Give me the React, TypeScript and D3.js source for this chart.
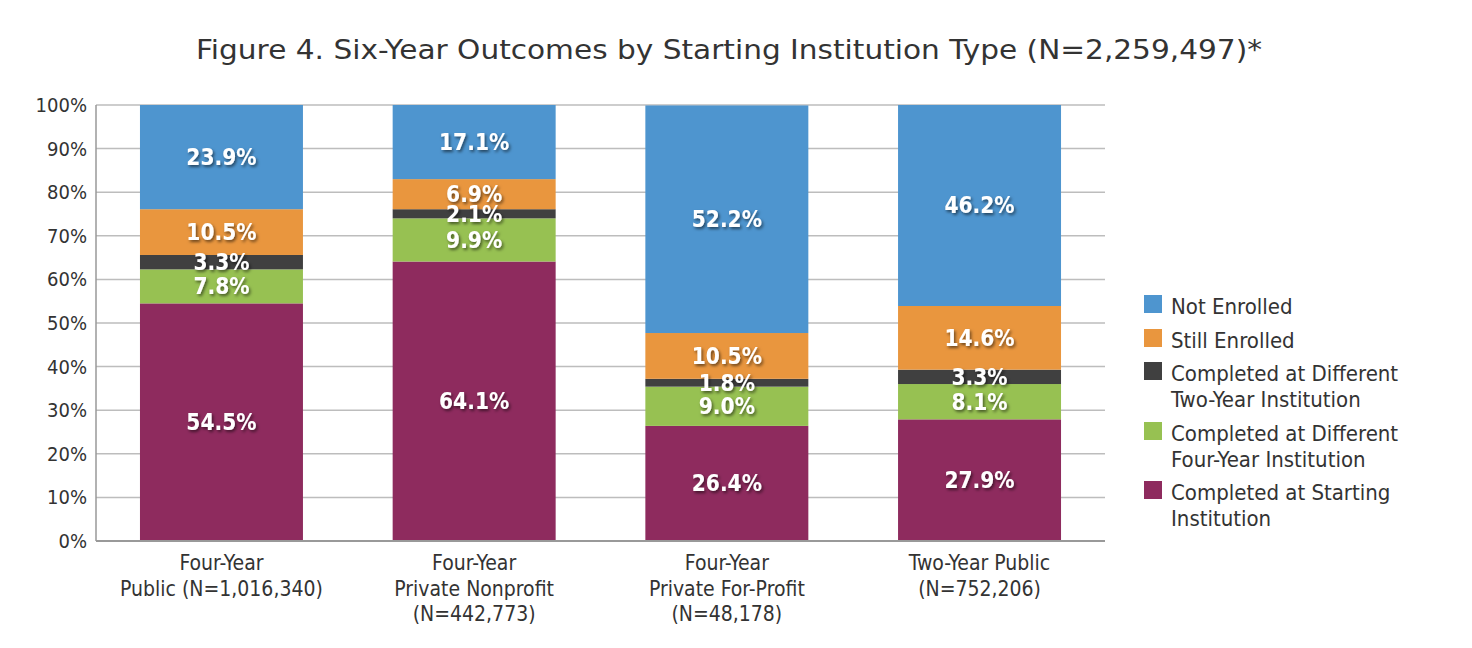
import React from "react";
import * as d3 from "d3";

const categories = [
  ["Four-Year", "Public (N=1,016,340)"],
  ["Four-Year", "Private Nonprofit", "(N=442,773)"],
  ["Four-Year", "Private For-Profit", "(N=48,178)"],
  ["Two-Year Public", "(N=752,206)"],
];
const seriesNames = [
  "Completed at Starting Institution",
  "Completed at Different Four-Year Institution",
  "Completed at Different Two-Year Institution",
  "Still Enrolled",
  "Not Enrolled",
];
const completedStarting = [54.5, 64.1, 26.4, 27.9];
const completedFourYear = [7.8, 9.9, 9.0, 8.1];
const completedTwoYear = [3.3, 2.1, 1.8, 3.3];
const stillEnrolled = [10.5, 6.9, 10.5, 14.6];
const notEnrolled = [23.9, 17.1, 52.2, 46.2];
const series = [completedStarting, completedFourYear, completedTwoYear, stillEnrolled, notEnrolled];
const colors = ["#8E2B5E", "#97C152", "#404040", "#E9963E", "#4E95CF"];
const yTicks = [0, 10, 20, 30, 40, 50, 60, 70, 80, 90, 100];
const legendItems = [
  { idx: 4, lines: ["Not Enrolled"] },
  { idx: 3, lines: ["Still Enrolled"] },
  { idx: 2, lines: ["Completed at Different", "Two-Year Institution"] },
  { idx: 1, lines: ["Completed at Different", "Four-Year Institution"] },
  { idx: 0, lines: ["Completed at Starting", "Institution"] },
];

const narrow = "'DejaVu Sans', sans-serif";
const stretch = "condensed";

export default function App() {
  const left = 96, right = 1105, top = 105, bottom = 541;
  const x = d3.scaleBand<number>().domain(d3.range(categories.length)).range([left, right]).paddingInner(0.355).paddingOuter(0.174);
  const y = d3.scaleLinear().domain([0, 100]).range([bottom, top]);

  const stacks = categories.map((_, ci) => {
    let acc = 0;
    return series.map((s, si) => {
      const y0 = acc;
      acc += s[ci];
      return { si, y0, y1: Math.min(acc, 100), v: s[ci] };
    });
  });

  const legendY = [306, 340, 373, 433, 492];
  const legendRows = legendItems.map((it, i) => ({ ...it, y: legendY[i] }));

  return (
    <svg width={1472} height={648} style={{ position: "absolute", left: 0, top: 0, display: "block" }}>
      <defs>
        <filter id="ts" x="-20%" y="-20%" width="140%" height="160%">
          <feDropShadow dx="1.5" dy="2" stdDeviation="1.5" floodColor="#000" floodOpacity="0.55" />
        </filter>
      </defs>
      <rect width={1472} height={648} fill="#fff" />
      <text x={729} y={59} textAnchor="middle" fontFamily="'DejaVu Sans', 'Open Sans', sans-serif" fontSize={26} fill="#333" textLength={1066} lengthAdjust="spacingAndGlyphs">
        Figure 4. Six-Year Outcomes by Starting Institution Type (N=2,259,497)*
      </text>
      {yTicks.map((t) => (
        <g key={t}>
          <line x1={left} x2={right} y1={y(t)} y2={y(t)} stroke="#bdbdbd" strokeWidth={1.5} />
          <text x={87} y={y(t) + 7} textAnchor="end" fontFamily={narrow} fontStretch={stretch} fontSize={20} fill="#333">
            {t}%
          </text>
        </g>
      ))}
      <line x1={left} x2={left} y1={top} y2={bottom} stroke="#999" strokeWidth={1.5} />
      {stacks.map((st, ci) => (
        <g key={ci}>
          {st.map((d) => (
            <rect key={d.si} x={x(ci)} width={x.bandwidth()} y={y(d.y1)} height={y(d.y0) - y(d.y1)} fill={colors[d.si]} />
          ))}
        </g>
      ))}
      <line x1={left} x2={right} y1={bottom} y2={bottom} stroke="#999" strokeWidth={2} />
      {stacks.map((st, ci) => (
        <g key={ci} filter="url(#ts)">
          {st.map((d) => (
            <text key={d.si} x={x(ci)! + x.bandwidth() / 2} y={y((d.y0 + d.y1) / 2) + 8} textAnchor="middle" fontFamily={narrow} fontStretch={stretch} fontWeight="bold" fontSize={22.5} fill="#fff">
              {d.v.toFixed(1)}%
            </text>
          ))}
        </g>
      ))}
      {categories.map((lines, ci) => (
        <text key={ci} textAnchor="middle" fontFamily={narrow} fontStretch={stretch} fontSize={21} fill="#333">
          {lines.map((l, li) => (
            <tspan key={li} x={x(ci)! + x.bandwidth() / 2} y={570 + li * 25.5}>
              {l}
            </tspan>
          ))}
        </text>
      ))}
      {legendRows.map((r) => (
        <g key={r.idx}>
          <rect x={1144} y={r.y - 11} width={18} height={18} fill={colors[r.idx]} />
          <text fontFamily={narrow} fontStretch={stretch} fontSize={22} fill="#333">
            {r.lines.map((l, li) => (
              <tspan key={li} x={1171} y={r.y + 8 + li * 26}>
                {l}
              </tspan>
            ))}
          </text>
        </g>
      ))}
    </svg>
  );
}
